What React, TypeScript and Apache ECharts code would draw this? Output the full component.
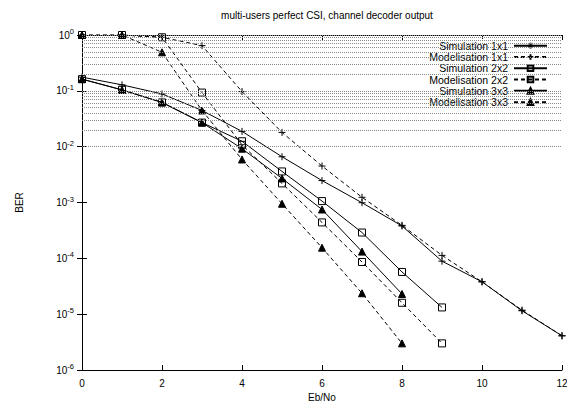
import React, { useEffect, useRef } from "react";
import * as echarts from "echarts";

const ebno = [0, 1, 2, 3, 4, 5, 6, 7, 8, 9, 10, 11, 12];
const sim1x1 = [0.176, 0.128, 0.088, 0.0445, 0.0188, 0.0066, 0.00247, 0.00099, 0.00038, 8.9e-5, 3.8e-5, 1.15e-5, 4.1e-6];
const mod1x1 = [1.0, 1.0, 0.91, 0.645, 0.097, 0.018, 0.0045, 0.00124, 0.00039, 0.000113, 3.8e-5, 1.18e-5, 4.1e-6];
const sim2x2 = [0.162, 0.104, 0.062, 0.027, 0.0125, 0.0036, 0.00106, 0.00029, 5.7e-5, 1.32e-5];
const mod2x2 = [1.0, 1.0, 0.91, 0.093, 0.0108, 0.0022, 0.00044, 8.6e-5, 1.6e-5, 3.0e-6];
const sim3x3 = [0.162, 0.104, 0.062, 0.027, 0.0092, 0.0027, 0.00075, 0.000132, 2.3e-5];
const mod3x3 = [1.0, 1.0, 0.49, 0.0445, 0.0059, 0.00095, 0.000155, 2.37e-5, 3.0e-6];

const seriesNames = [
  "Simulation 1x1",
  "Modelisation 1x1",
  "Simulation 2x2",
  "Modelisation 2x2",
  "Simulation 3x3",
  "Modelisation 3x3",
];

const xTicks = ["0", "2", "4", "6", "8", "10", "12"];
const yTickValues = [1, 1e-1, 1e-2, 1e-3, 1e-4, 1e-5, 1e-6];
const yTickExponents = ["0", "-1", "-2", "-3", "-4", "-5", "-6"];
const gridDecades = [1e-6, 1e-5, 1e-4, 1e-3, 1e-2, 1e-1];
const gridMultipliers = [1, 2, 3, 4, 5, 6, 7, 8, 9];

const FONT = "'Liberation Sans', Arial, Helvetica, sans-serif";
const PLUS = "path://M0,4L8,4M4,0L4,8";

function pairs(vals: number[]) {
  return vals.map((v, i) => [ebno[i], v]);
}

export default function App() {
  const ref = useRef<HTMLDivElement>(null);
  useEffect(() => {
    if (!ref.current) return;
    const chart = echarts.init(ref.current, undefined, { renderer: "svg" });

    const gridValues: number[] = [1];
    gridDecades.forEach((d) => gridMultipliers.forEach((m) => gridValues.push(d * m)));

    const mk = (
      name: string,
      vals: number[],
      symbol: string,
      dashed: boolean,
      fill: string,
      size: number
    ) => ({
      name,
      type: "line",
      data: pairs(vals),
      symbol,
      symbolSize: size,
      showSymbol: true,
      z: 3,
      lineStyle: { color: "#000", width: 1, type: dashed ? [4, 3] : "solid" },
      itemStyle: { color: fill, borderColor: "#000", borderWidth: 1 },
      emphasis: { disabled: true },
    });

    const axisCommonX = {
      type: "value",
      min: 0,
      max: 12,
      interval: 2,
      splitLine: { show: false },
      axisLine: { lineStyle: { color: "#000", width: 1 } },
      axisTick: { inside: true, length: 5, lineStyle: { color: "#000" } },
    };
    const axisCommonY = {
      type: "log",
      min: 1e-6,
      max: 1,
      logBase: 10,
      splitLine: { show: false },
      axisLine: { lineStyle: { color: "#000", width: 1 } },
      axisTick: { inside: true, length: 5, lineStyle: { color: "#000" } },
    };

    chart.setOption({
      animation: false,
      backgroundColor: "#fff",
      textStyle: { fontFamily: FONT },
      title: {
        text: "multi-users perfect CSI, channel decoder output",
        left: 322,
        top: 5,
        textAlign: "center",
        textStyle: { fontFamily: FONT, fontSize: 10, fontWeight: "normal", color: "#000" },
      },
      grid: { left: 82, right: 5, top: 35, bottom: 33, outerBoundsMode: "none", containLabel: false },
      legend: {
        data: seriesNames,
        orient: "vertical",
        align: "right",
        right: 12,
        top: 39,
        itemWidth: 33,
        itemHeight: 7,
        itemGap: 0,
        padding: [1, 7, 2, 8],
        backgroundColor: "#fff",
        selectedMode: false,
        textStyle: { fontFamily: FONT, fontSize: 10.5, color: "#000", lineHeight: 11.3, padding: [0, 1, 0, 0] },
      },
      xAxis: [
        {
          ...axisCommonX,
          position: "bottom",
          name: "Eb/No",
          nameLocation: "middle",
          nameGap: 21,
          nameTextStyle: { fontFamily: FONT, fontSize: 10, color: "#000" },
          axisLabel: {
            color: "#000",
            fontFamily: FONT,
            fontSize: 10,
            margin: 8,
            formatter: (v: number) => xTicks[Math.round(v / 2)] ?? "",
          },
        },
        { ...axisCommonX, position: "top", axisLabel: { show: false } },
      ],
      yAxis: [
        {
          ...axisCommonY,
          position: "left",
          name: "BER",
          nameLocation: "middle",
          nameGap: 58,
          nameRotate: 90,
          nameTextStyle: { fontFamily: FONT, fontSize: 10, color: "#000" },
          axisLabel: {
            color: "#000",
            fontFamily: FONT,
            fontSize: 10,
            margin: 8,
            formatter: (v: number) => {
              let idx = 0;
              let best = Infinity;
              yTickValues.forEach((t, i) => {
                const d = Math.abs(Math.log10(t) - Math.log10(v));
                if (d < best) {
                  best = d;
                  idx = i;
                }
              });
              return "10{s|" + yTickExponents[idx] + "}";
            },
            rich: {
              s: { fontSize: 7.5, fontFamily: FONT, color: "#000", verticalAlign: "bottom", padding: [0, 0, 7, 0] },
            },
          },
        },
        { ...axisCommonY, position: "right", axisLabel: { show: false } },
      ],
      series: [
        {
          type: "line",
          data: [],
          z: 1,
          silent: true,
          markLine: {
            silent: true,
            symbol: "none",
            label: { show: false },
            animation: false,
            lineStyle: { color: "#888", width: 1, type: [1, 1] },
            emphasis: { disabled: true },
            data: gridValues.map((v) => ({ yAxis: v })),
          },
        },
        mk(seriesNames[0], sim1x1, PLUS, false, "#000", 7),
        mk(seriesNames[1], mod1x1, PLUS, true, "#000", 7),
        mk(seriesNames[2], sim2x2, "rect", false, "rgba(255,255,255,0)", 7),
        mk(seriesNames[3], mod2x2, "rect", true, "rgba(255,255,255,0)", 7),
        mk(seriesNames[4], sim3x3, "triangle", false, "#000", 7),
        mk(seriesNames[5], mod3x3, "triangle", true, "#000", 7),
      ],
    });
    return () => chart.dispose();
  }, []);
  return <div ref={ref} style={{ width: 567, height: 403, position: "absolute", left: 0, top: 0 }} />;
}
